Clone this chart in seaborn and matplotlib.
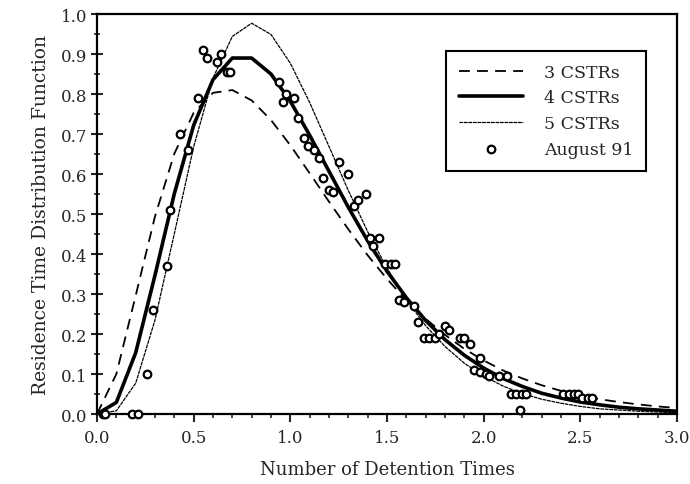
import numpy as np
import pandas as pd
import matplotlib
matplotlib.use("Agg")
import matplotlib.pyplot as plt
import seaborn as sns
from matplotlib.ticker import MultipleLocator

# ---- data ----
theta = [0.0, 0.1, 0.2, 0.3, 0.4, 0.5, 0.6, 0.7, 0.8, 0.9, 1.0,
         1.1, 1.2, 1.3, 1.4, 1.5, 1.6, 1.7, 1.8, 1.9, 2.0,
         2.1, 2.2, 2.3, 2.4, 2.5, 2.6, 2.7, 2.8, 2.9, 3.0]
cstr3 = [0.0, 0.100, 0.296, 0.494, 0.651, 0.753, 0.803, 0.810, 0.784, 0.735, 0.672,
         0.602, 0.531, 0.462, 0.397, 0.338, 0.284, 0.238, 0.198, 0.163, 0.134,
         0.109, 0.089, 0.072, 0.058, 0.047, 0.037, 0.030, 0.024, 0.019, 0.015]
cstr4 = [0.0, 0.029, 0.153, 0.347, 0.551, 0.722, 0.836, 0.890, 0.890, 0.850, 0.782,
         0.697, 0.607, 0.517, 0.433, 0.357, 0.291, 0.234, 0.186, 0.147, 0.115,
         0.089, 0.069, 0.052, 0.040, 0.030, 0.023, 0.017, 0.013, 0.010, 0.007]
cstr5 = [0.0, 0.008, 0.077, 0.235, 0.451, 0.668, 0.840, 0.944, 0.977, 0.949, 0.877,
         0.779, 0.669, 0.559, 0.456, 0.365, 0.286, 0.221, 0.169, 0.127, 0.095,
         0.070, 0.051, 0.037, 0.027, 0.019, 0.013, 0.010, 0.007, 0.005, 0.003]

aug_x = [0.03, 0.04, 0.18, 0.21, 0.26, 0.29, 0.36, 0.38, 0.43, 0.47, 0.52, 0.55, 0.57,
         0.62, 0.64, 0.67, 0.69,
         0.94, 0.96, 0.98, 1.02, 1.04, 1.07, 1.09, 1.12, 1.15, 1.17, 1.20, 1.22,
         1.25, 1.30, 1.33, 1.35, 1.39,
         1.41, 1.43, 1.46, 1.49, 1.52, 1.54, 1.56, 1.59, 1.64, 1.66,
         1.69, 1.72, 1.75, 1.77, 1.80, 1.82, 1.88, 1.90, 1.93, 1.98,
         1.95, 1.98, 2.01, 2.03, 2.08, 2.12,
         2.14, 2.17, 2.20, 2.22, 2.19,
         2.41, 2.44, 2.47, 2.49, 2.51, 2.54, 2.56]
aug_y = [0.00, 0.00, 0.00, 0.00, 0.10, 0.26, 0.37, 0.51, 0.70, 0.66, 0.79, 0.91, 0.89,
         0.88, 0.90, 0.855, 0.855,
         0.83, 0.78, 0.80, 0.79, 0.74, 0.69, 0.67, 0.66, 0.64, 0.59, 0.56, 0.555,
         0.63, 0.60, 0.52, 0.535, 0.55,
         0.44, 0.42, 0.44, 0.375, 0.375, 0.375, 0.285, 0.28, 0.27, 0.23,
         0.19, 0.19, 0.19, 0.20, 0.22, 0.21, 0.19, 0.19, 0.175, 0.14,
         0.11, 0.105, 0.10, 0.095, 0.095, 0.095,
         0.05, 0.05, 0.05, 0.05, 0.01,
         0.05, 0.05, 0.05, 0.05, 0.04, 0.04, 0.04]

x_ticks = [0.0, 0.5, 1.0, 1.5, 2.0, 2.5, 3.0]
y_ticks = [0.0, 0.1, 0.2, 0.3, 0.4, 0.5, 0.6, 0.7, 0.8, 0.9, 1.0]

# ---- styling ----
sns.set_style("ticks")
plt.rcParams["font.family"] = ["DejaVu Serif"]

fig = plt.figure(figsize=(6.9, 4.85), dpi=100)
ax = fig.add_axes([0.1406, 0.1443, 0.8404, 0.8247])

curves = pd.DataFrame({"theta": theta, "c3": cstr3, "c4": cstr4, "c5": cstr5})
data = pd.DataFrame({"x": aug_x, "y": aug_y})

sns.lineplot(data=curves, x="theta", y="c3", ax=ax, color="black", lw=1.3,
             label="3 CSTRs", sort=False)
ax.lines[-1].set_dashes((6, 4))
sns.lineplot(data=curves, x="theta", y="c4", ax=ax, color="black", lw=2.6,
             label="4 CSTRs", sort=False)
sns.lineplot(data=curves, x="theta", y="c5", ax=ax, color="black", lw=0.9,
             label="5 CSTRs", sort=False)
ax.lines[-1].set_dashes((3, 0.6))
sns.scatterplot(data=data, x="x", y="y", ax=ax, marker="o", s=30,
                facecolor="white", edgecolor="black", linewidth=1.6,
                label="August 91", zorder=5, clip_on=False)

ax.set_xlim(0, 3.0)
ax.set_ylim(0, 1.0)
ax.set_xticks(x_ticks)
ax.set_xticklabels([f"{v:.1f}" for v in x_ticks])
ax.set_yticks(y_ticks)
ax.set_yticklabels([f"{v:.1f}" for v in y_ticks])
ax.xaxis.set_minor_locator(MultipleLocator(0.1))
ax.yaxis.set_minor_locator(MultipleLocator(0.05))
ax.tick_params(axis="x", which="major", direction="out", length=6, width=1.5,
               labelsize=12, pad=5, top=False)
ax.tick_params(axis="x", which="minor", direction="out", length=3, width=1.2, top=False)
ax.tick_params(axis="y", which="major", direction="inout", length=8, width=1.5,
               labelsize=12, pad=3, right=False)
ax.tick_params(axis="y", which="minor", direction="inout", length=4, width=1.2, right=False)
for sp in ax.spines.values():
    sp.set_visible(True)
    sp.set_linewidth(1.6)
    sp.set_color("black")

ax.set_xlabel("Number of Detention Times", fontsize=13, labelpad=10)
ax.set_ylabel("Residence Time Distribution Function", fontsize=13.5, labelpad=8)

leg = ax.legend(loc="upper right", bbox_to_anchor=(0.962, 0.93), fontsize=12.5,
                frameon=True, fancybox=False, edgecolor="black", framealpha=1,
                handlelength=3.7, labelspacing=0.5, borderpad=0.75,
                handletextpad=1.2)
leg.get_frame().set_linewidth(1.5)

fig.savefig("out.png", dpi=100)
